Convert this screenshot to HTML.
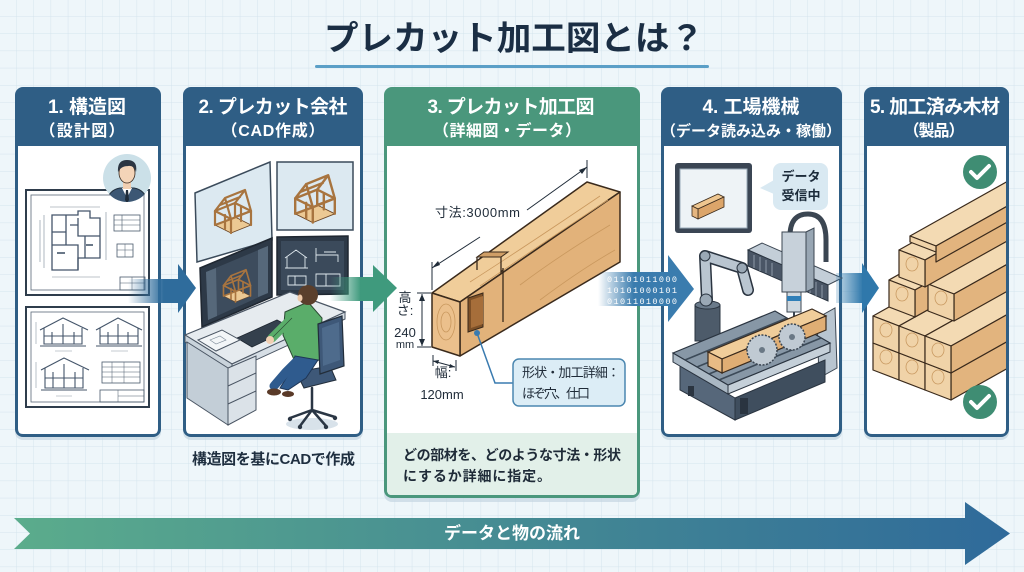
<!DOCTYPE html>
<html><head><meta charset="utf-8">
<style>
html,body{margin:0;padding:0;background:#eef6fa;}
svg{display:block}
text{font-family:"Liberation Sans","Noto Sans CJK JP",sans-serif;}
.mono{font-family:"Liberation Mono","DejaVu Sans Mono",monospace;}
</style></head><body>
<svg width="1024" height="572" viewBox="0 0 1024 572" xmlns="http://www.w3.org/2000/svg">
<defs>
<pattern id="grid" x="-0.5" y="-0.5" width="17.2" height="17.2" patternUnits="userSpaceOnUse">
<path d="M17.2 0V17.2H0" fill="none" stroke="#d4e4ed" stroke-width="1"/>
</pattern>
<linearGradient id="flow" x1="0" x2="1"><stop offset="0" stop-color="#5bac8c"/><stop offset="1" stop-color="#2f6a9a"/></linearGradient>
<linearGradient id="arB" x1="0" x2="1"><stop offset="0" stop-color="#2f6c9c" stop-opacity="0"/><stop offset="0.7" stop-color="#2f6c9c"/></linearGradient>
<linearGradient id="arG" x1="0" x2="1"><stop offset="0" stop-color="#3f9a7d" stop-opacity="0"/><stop offset="0.7" stop-color="#3f9a7d"/></linearGradient>
<linearGradient id="arC" x1="0" x2="1"><stop offset="0" stop-color="#3a7cae" stop-opacity="0"/><stop offset="0.5" stop-color="#3a7cae"/></linearGradient>
<linearGradient id="arD" x1="0" x2="1"><stop offset="0" stop-color="#2f78ab" stop-opacity="0.2"/><stop offset="1" stop-color="#2f78ab"/></linearGradient>
<clipPath id="av"><circle cx="127" cy="178" r="24"/></clipPath>
<clipPath id="p5"><rect x="867" y="146" width="139" height="288"/></clipPath>
<g id="hf" fill="none" stroke-linejoin="round" stroke-linecap="round">
 <path d="M-18 8 L2 0 L18 8 L-2 16 Z" fill="#ecc994" stroke="#6b4524" stroke-width="0.8"/>
 <path d="M-18 8 V-6 M2 0 V-14 M18 8 V-6 M-2 16 V2 M-8 12 V-2 M8 4 V-10 M-18 8 L-2 2 M2 0 L18 -6" stroke="#a8743f" stroke-width="2.2"/>
 <path d="M-18 -6 L2 -14 L18 -6 L-2 2 Z" stroke="#a8743f" stroke-width="2.2"/>
 <path d="M-18 -6 L-8 -19 L12 -27 L18 -6 M-2 2 L-8 -19 M2 -14 L12 -27 M-13 -12 L7 -20" stroke="#a8743f" stroke-width="2.2"/>
</g>
</defs>

<rect width="1024" height="572" fill="#eef6fa"/>
<rect width="1024" height="572" fill="url(#grid)"/>

<!-- Title -->
<text x="514" y="50" font-size="34" font-weight="bold" fill="#1b2e44" text-anchor="middle" textLength="380" lengthAdjust="spacingAndGlyphs">プレカット加工図とは？</text>
<rect x="315" y="65" width="394" height="3" rx="1.5" fill="#5b9fc7"/>

<!-- shadows -->
<g fill="#c4d6e1" opacity="0.7">
<rect x="15" y="90" width="146" height="350" rx="8"/>
<rect x="183" y="90" width="180" height="350" rx="8"/>
<rect x="384" y="90" width="256" height="412" rx="8"/>
<rect x="661" y="90" width="181" height="350" rx="8"/>
<rect x="864" y="90" width="145" height="350" rx="8"/>
</g>

<!-- Panels -->
<rect x="15" y="87" width="146" height="350" rx="8" fill="#2f5e85"/>
<path d="M18 146H158V429Q158 434 153 434H23Q18 434 18 429Z" fill="#fff"/>
<rect x="183" y="87" width="180" height="350" rx="8" fill="#2f5e85"/>
<path d="M186 146H360V429Q360 434 355 434H191Q186 434 186 429Z" fill="#fff"/>
<rect x="384" y="87" width="256" height="411" rx="8" fill="#4a977c"/>
<path d="M387 146H637V490Q637 495 632 495H392Q387 495 387 490Z" fill="#fff"/>
<path d="M387 433H637V490Q637 495 632 495H392Q387 495 387 490Z" fill="#e2f0e9"/>
<rect x="661" y="87" width="181" height="350" rx="8" fill="#2f5e85"/>
<path d="M664 146H839V429Q839 434 834 434H669Q664 434 664 429Z" fill="#fff"/>
<rect x="864" y="87" width="145" height="350" rx="8" fill="#2f5e85"/>
<path d="M867 146H1006V429Q1006 434 1001 434H872Q867 434 867 429Z" fill="#fff"/>

<!-- Header texts -->
<g fill="#fff" font-weight="bold" text-anchor="middle">
<text x="87" y="113" font-size="19" textLength="78">1. 構造図</text>
<text x="82" y="136" font-size="16" textLength="85">（設計図）</text>
<text x="273" y="113" font-size="19" textLength="149">2. プレカット会社</text>
<text x="273" y="136" font-size="16" textLength="103">（CAD作成）</text>
<text x="511" y="113" font-size="19" textLength="167">3. プレカット加工図</text>
<text x="507" y="136" font-size="16" textLength="148">（詳細図・データ）</text>
<text x="751" y="113" font-size="19" textLength="97">4. 工場機械</text>
<text x="751" y="136" font-size="15" textLength="180">（データ読み込み・稼働）</text>
<text x="935" y="113" font-size="19" textLength="130">5. 加工済み木材</text>
<text x="934" y="136" font-size="16" textLength="61">（製品）</text>
</g>

<!-- ===== Panel 1 ===== -->
<rect x="26" y="190" width="123" height="105" fill="#fff" stroke="#2f3d4c" stroke-width="2"/>
<rect x="31" y="195" width="113" height="95" fill="none" stroke="#5a6878" stroke-width="0.8"/>
<g stroke="#44556a" fill="none" stroke-width="1.3">
<path d="M52 215H78V211H90V218H100V258H78V270H52Z"/>
<path d="M52 232H66M66 215V245M78 218V236H100M52 245H78V270M70 225H78M85 236V258"/>
</g>
<g stroke="#7a8896" stroke-width="0.6" fill="none">
<path d="M50 207H100M44 215V268M106 212V260M52 277H100M40 220V262"/>
</g>
<g fill="#6a7888"><rect x="57" y="252" width="8" height="2"/><rect x="86" y="244" width="7" height="2"/></g>
<rect x="114" y="215" width="26" height="16" fill="none" stroke="#4a5a6c" stroke-width="0.8"/>
<path d="M114 220H140M114 225H140M122 215V231" stroke="#4a5a6c" stroke-width="0.6"/>
<rect x="117" y="244" width="16" height="13" fill="none" stroke="#4a5a6c" stroke-width="0.8"/>
<path d="M117 250H133M125 244V257" stroke="#4a5a6c" stroke-width="0.5"/>
<rect x="120" y="277" width="25" height="13" fill="none" stroke="#4a5a6c" stroke-width="0.8"/>
<path d="M120 283H145M132 277V290" stroke="#4a5a6c" stroke-width="0.5"/>

<rect x="26" y="307" width="123" height="100" fill="#fff" stroke="#2f3d4c" stroke-width="2"/>
<rect x="31" y="312" width="113" height="90" fill="none" stroke="#5a6878" stroke-width="0.8"/>
<g stroke="#44556a" fill="none" stroke-width="1.1">
<path d="M40 330L63 318L88 330M44 328V344H82V328M52 332V344M63 324V344M74 332V344M44 336H82M40 346H86"/>
<path d="M96 330L118 318L142 330M100 328V344H138V328M108 332V344M118 324V344M128 332V344M100 336H138M96 346H142"/>
<path d="M41 370L64 358L89 370M45 368V388H83V368M53 372V388M64 364V388M75 372V388M45 378H83M41 390H87"/>
</g>
<g stroke="#8a98a6" stroke-width="0.6"><path d="M36 322V344M36 362V388M55 351H72M111 351H128M56 396H72"/></g>
<rect x="102" y="362" width="38" height="21" fill="none" stroke="#4a5a6c" stroke-width="0.8"/>
<path d="M102 367H140M102 372H140M102 377H140M112 362V383M124 362V383" stroke="#4a5a6c" stroke-width="0.5"/>
<rect x="100" y="390" width="44" height="12" fill="none" stroke="#4a5a6c" stroke-width="0.8"/>
<path d="M118 390V402M118 396H144" stroke="#4a5a6c" stroke-width="0.5"/>

<circle cx="127" cy="178" r="24" fill="#cbe0e8"/>
<g clip-path="url(#av)">
<path d="M106 204Q108 190 120 188H134Q146 190 148 204Z" fill="#3c5774" stroke="#22303e" stroke-width="1"/>
<path d="M122 188L127 198L132 188Z" fill="#fff"/>
<path d="M126 190L128 190L129 200L127 203L125 200Z" fill="#1f2c3a"/>
<rect x="123" y="181" width="8" height="8" fill="#f1cfb2"/>
<ellipse cx="127" cy="173" rx="8" ry="10" fill="#f4d4b8" stroke="#3a2a20" stroke-width="0.8"/>
<path d="M118 172Q117 160 127 160Q138 160 136 172Q134 165 128 166Q121 166 118 172Z" fill="#2c3643"/>
</g>

<!-- ===== Panel 2 ===== -->
<polygon points="195,193 270,162 272,240 197,262" fill="#dce9f1" stroke="#3b4b5b" stroke-width="1.5"/>
<use href="#hf" transform="translate(233,217)"/>
<rect x="277" y="162" width="76" height="68" fill="#dce9f1" stroke="#3b4b5b" stroke-width="1.5"/>
<use href="#hf" transform="translate(315,205) scale(1.1)"/>

<polygon points="277,237 348,236 348,294 277,295" fill="#2d3947" stroke="#1f2731" stroke-width="1.5"/>
<rect x="281" y="241" width="63" height="49" fill="#3b4a5b"/>
<g stroke="#dfe8ee" stroke-width="0.9" fill="none">
<path d="M285 258L296 250L307 258M287 257V268H305V257M285 268H308"/>
<path d="M316 248V262M316 255H338V262M324 252H336"/>
<path d="M288 276H306V285H288ZM295 276V285"/>
<path d="M316 274H340V286H316ZM326 274V286"/>
</g>

<polygon points="200,268 272,238 272,297 202,327" fill="#2d3947" stroke="#1f2731" stroke-width="1.5"/>
<polygon points="206,272 268,246 268,293 208,320" fill="#3d4c5d"/>
<polygon points="206,272 216,268 217,316 208,320" fill="#56687a"/>
<polygon points="258,250 268,246 268,293 258,297" fill="#56687a"/>
<use href="#hf" transform="translate(237,290) scale(0.75)"/>
<polygon points="236,320 248,315 249,332 237,336" fill="#2d3947"/>
<ellipse cx="243" cy="336" rx="12" ry="4" fill="#2d3947"/>

<polygon points="185,335 290,292 345,312 232,364" fill="#e6ebef" stroke="#4a5563" stroke-width="1.2"/>
<polygon points="185,335 232,364 232,371 185,342" fill="#c9d3db" stroke="#4a5563" stroke-width="1"/>
<polygon points="232,364 345,312 345,319 232,371" fill="#d6dee5" stroke="#4a5563" stroke-width="1"/>
<polygon points="187,342 228,368 228,425 187,398" fill="#c3ced7" stroke="#4a5563" stroke-width="1"/>
<polygon points="228,368 256,356 256,410 228,425" fill="#dbe2e8" stroke="#4a5563" stroke-width="1"/>
<path d="M228 386L256 373M228 404L256 391" stroke="#4a5563" stroke-width="1"/>
<polygon points="237,338 277,320 292,328 252,347" fill="#34404d" stroke="#1f2731" stroke-width="0.8"/>
<polygon points="198,340 222,330 240,340 216,351" fill="#f3f6f8" stroke="#4a5563" stroke-width="1"/>
<path d="M210 340L220 336L226 340L216 344Z" fill="none" stroke="#7a8896" stroke-width="0.6"/>
<ellipse cx="282" cy="331" rx="4" ry="2.5" fill="#34404d"/>

<ellipse cx="312" cy="424" rx="26" ry="6" fill="#d8e2ea"/>
<g stroke="#2a3644" stroke-width="2.5" stroke-linecap="round">
<path d="M312 388V410M312 410L290 418M312 410L335 417M312 410L300 426M312 410L326 426"/>
</g>
<g fill="#2a3644"><circle cx="290" cy="419" r="2.2"/><circle cx="335" cy="418" r="2.2"/><circle cx="300" cy="427" r="2.2"/><circle cx="326" cy="427" r="2.2"/></g>
<polygon points="296,372 330,366 336,380 304,388" fill="#3e5878" stroke="#222d3a" stroke-width="1"/>
<polygon points="285,312 308,302 322,318 320,360 296,364 283,335" fill="#5aad6a" stroke="#2b4a33" stroke-width="1"/>
<path d="M292 318L272 338" stroke="#5aad6a" stroke-width="9" stroke-linecap="round"/>
<path d="M292 318L272 338" stroke="#2b4a33" stroke-width="0.6" fill="none"/>
<circle cx="270" cy="340" r="4" fill="#f1cfb2"/>
<path d="M295 356L318 360L306 378L288 390L280 388L290 372Z" fill="#2f5b8e" stroke="#1f3656" stroke-width="1"/>
<path d="M296 362L286 372L274 386" stroke="#2f5b8e" stroke-width="9" stroke-linecap="round"/>
<ellipse cx="274" cy="392" rx="7" ry="3.5" fill="#5a3a28"/>
<ellipse cx="288" cy="394" rx="6" ry="3" fill="#5a3a28"/>
<circle cx="308" cy="295" r="10" fill="#5b3f2c"/>
<ellipse cx="300" cy="298" rx="2.5" ry="3.5" fill="#efc9a8"/>
<polygon points="318,324 342,316 344,366 320,374" fill="#3e5878" stroke="#222d3a" stroke-width="1.2"/>
<polygon points="322,328 339,322 340,360 323,366" fill="#4e6b8c"/>

<text x="273.5" y="464" font-size="15" font-weight="bold" fill="#1f2f40" text-anchor="middle" textLength="163">構造図を基にCADで作成</text>

<!-- ===== Panel 3 ===== -->
<polygon points="432,293 587,182 620,192 460,302" fill="#f0cd9a" stroke="#3a2a1c" stroke-width="1.5" stroke-linejoin="round"/>
<polygon points="460,302 620,192 620,262 460,356" fill="#e2b27a" stroke="#3a2a1c" stroke-width="1.5" stroke-linejoin="round"/>
<polygon points="432,293 460,302 460,356 432,347" fill="#ebc08c" stroke="#3a2a1c" stroke-width="1.5" stroke-linejoin="round"/>
<g fill="none" stroke="#c9985e" stroke-width="0.8">
<path d="M470 282Q520 250 600 196M480 286Q540 245 608 200M520 285Q560 255 610 225M540 300Q580 270 615 250"/>
<ellipse cx="446" cy="322" rx="9" ry="18"/><ellipse cx="446" cy="322" rx="5" ry="10"/>
</g>
<polygon points="477,257 484,252 508,252 501,257" fill="#cf9e66" stroke="#3a2a1c" stroke-width="1"/>
<path d="M477 257V270M501 257V272L503 270M503 268V322" stroke="#3a2a1c" stroke-width="1.3" fill="none"/>
<polygon points="468,298 483,293 483,327 468,332" fill="#7d5027" stroke="#3a2a1c" stroke-width="1"/>
<polygon points="471,300 483,296 483,324 471,328" fill="#a66e3a"/>

<g stroke="#1f2b38" stroke-width="1" fill="none">
<path d="M432 290V262M587 178V160"/>
<path d="M432 268L480 237M527 210L587 167"/>
<path d="M422 294V346M417 293H431M417 347H431"/>
<path d="M433 361L455 367M433 355V366M456 360V371"/>
</g>
<g fill="#1f2b38">
<polygon points="432,268 438,261 440,265"/>
<polygon points="587,167 579,170 582,174"/>
<polygon points="422,294 419,301 425,301"/>
<polygon points="422,346 419,339 425,339"/>
<polygon points="433,361 439,360 438,364"/>
<polygon points="455,367 449,368 450,364"/>
</g>
<g font-size="13" fill="#1f2b38">
<text x="435" y="217" textLength="85">寸法:3000mm</text>
<text x="405" y="302" text-anchor="middle">高</text>
<text x="405" y="315" text-anchor="middle">さ:</text>
<text x="405" y="337" text-anchor="middle">240</text>
<text x="405" y="348" text-anchor="middle" font-size="11">mm</text>
<text x="443" y="377" text-anchor="middle">幅:</text>
<text x="442" y="399" text-anchor="middle">120mm</text>
</g>
<path d="M477 333L495 383H513" stroke="#3a7bb0" stroke-width="1.5" fill="none"/>
<circle cx="477" cy="333" r="3" fill="#3a7bb0"/>
<rect x="513" y="359" width="112" height="47" rx="6" fill="#dcedf6" stroke="#4b87b0" stroke-width="1.5"/>
<text x="522" y="377" font-size="13" fill="#1f2b38" textLength="98">形状・加工詳細：</text>
<text x="522" y="398" font-size="13" fill="#1f2b38" textLength="68">ほぞ穴、仕口</text>

<text x="403" y="460" font-size="14" font-weight="bold" fill="#1f2b38" textLength="218">どの部材を、どのような寸法・形状</text>
<text x="403" y="481" font-size="14" font-weight="bold" fill="#1f2b38" textLength="148">にするか詳細に指定。</text>

<!-- ===== Panel 4 ===== -->
<rect x="675" y="163" width="77" height="70" rx="3" fill="#3b4654"/>
<rect x="680" y="169" width="67" height="59" fill="#eef3f6" stroke="#9aabb9" stroke-width="1"/>
<polygon points="692,206 718,194 724,197 698,209" fill="#eec690" stroke="#3a2a1c" stroke-width="0.8"/>
<polygon points="698,209 724,197 724,207 698,219" fill="#dca56a" stroke="#3a2a1c" stroke-width="0.8"/>
<polygon points="692,206 698,209 698,219 692,216" fill="#e6b680" stroke="#3a2a1c" stroke-width="0.8"/>
<rect x="773" y="163" width="55" height="47" rx="8" fill="#d9e9f2"/>
<polygon points="774,180 760,188 774,194" fill="#d9e9f2"/>
<text x="801" y="181" font-size="13" font-weight="bold" fill="#1c2b3a" text-anchor="middle">データ</text>
<text x="801" y="200" font-size="13" font-weight="bold" fill="#1c2b3a" text-anchor="middle">受信中</text>

<!-- robot arm -->
<rect x="695" y="305" width="25" height="36" fill="#4d5b6a" stroke="#2a3440" stroke-width="1"/>
<ellipse cx="707.5" cy="305" rx="12.5" ry="4" fill="#6a7a8a" stroke="#2a3440" stroke-width="1"/>
<path d="M707 300L705 256L742 268L748 290" stroke="#2a3440" stroke-width="12" fill="none" stroke-linejoin="round" stroke-linecap="round"/>
<path d="M707 300L705 256L742 268L748 290" stroke="#b9c5d0" stroke-width="9" fill="none" stroke-linejoin="round" stroke-linecap="round"/>
<circle cx="706" cy="300" r="6" fill="#9aa8b5" stroke="#2a3440"/>
<circle cx="705" cy="256" r="5" fill="#9aa8b5" stroke="#2a3440"/>
<circle cx="742" cy="268" r="5" fill="#9aa8b5" stroke="#2a3440"/>

<!-- gantry -->
<path d="M790 236Q790 214 808 214Q826 214 826 240V262" stroke="#3b4652" stroke-width="5" fill="none"/>
<polygon points="748,250 762,243 842,278 828,285" fill="#c3ced8" stroke="#3b4652" stroke-width="1"/>
<polygon points="748,250 828,285 828,301 748,266" fill="#4a5666" stroke="#2a3440" stroke-width="1"/>
<g stroke="#8d9aa8" stroke-width="1"><path d="M754 255V268M760 257V271M766 260V273M772 263V276M810 280V293M816 282V296M822 285V298"/></g>
<rect x="782" y="232" width="24" height="60" fill="#c7d1da" stroke="#3b4652" stroke-width="1"/>
<polygon points="806,232 814,228 814,288 806,292" fill="#98a6b3" stroke="#3b4652" stroke-width="1"/>
<rect x="787" y="292" width="14" height="20" fill="#d0d9e0" stroke="#3b4652" stroke-width="1"/>
<rect x="787" y="296" width="14" height="5" fill="#2f7fb8"/>
<path d="M794 312V324" stroke="#3b4652" stroke-width="2"/>
<polygon points="817,318 835,308 837,368 819,378" fill="#b8c5d0" stroke="#3b4652" stroke-width="1"/>

<!-- table -->
<polygon points="680,366 735,398 735,420 680,390" fill="#56677a" stroke="#2a3440" stroke-width="1"/>
<polygon points="735,398 825,360 825,382 735,420" fill="#3f4e5e" stroke="#2a3440" stroke-width="1"/>
<polygon points="673,353 728,385 728,394 673,362" fill="#aab8c4" stroke="#2a3440" stroke-width="1"/>
<polygon points="728,385 830,343 830,352 728,394" fill="#c5d0d9" stroke="#2a3440" stroke-width="1"/>
<polygon points="673,353 775,311 830,343 728,385" fill="#8797a6" stroke="#2a3440" stroke-width="1.2"/>
<g stroke="#3c4a58" stroke-width="1.6"><path d="M685 360L787 318M697 367L799 325M709 374L811 332M719 380L821 338"/></g>
<rect x="740" y="398" width="8" height="16" fill="#2a3440"/>
<rect x="688" y="386" width="6" height="10" fill="#2a3440"/>
<!-- wood -->
<polygon points="708,352 812,309 826,316 722,359" fill="#f0cd9a" stroke="#3a2a1c" stroke-width="1.2"/>
<polygon points="722,359 826,316 826,330 722,373" fill="#e0ae74" stroke="#3a2a1c" stroke-width="1.2"/>
<polygon points="708,352 722,359 722,373 708,366" fill="#e8bb85" stroke="#3a2a1c" stroke-width="1.2"/>
<!-- blades -->
<circle cx="762" cy="350" r="15" fill="#c0cad3" stroke="#3b4652" stroke-width="1.5" stroke-dasharray="2 1.5"/>
<circle cx="762" cy="350" r="3" fill="#6a7885"/>
<circle cx="792" cy="337" r="13" fill="#c0cad3" stroke="#3b4652" stroke-width="1.5" stroke-dasharray="2 1.5"/>
<circle cx="792" cy="337" r="3" fill="#6a7885"/>

<!-- ===== Panel 5 ===== -->
<g clip-path="url(#p5)" stroke="#3a2a1c" stroke-width="1.2" stroke-linejoin="round">
<!-- row 4 -->
<polygon points="873,343 1073,231 1099,241 899,353" fill="#f3dab3"/><polygon points="899,353 1099,241 1099,268 899,380" fill="#e2b47e"/><polygon points="873,343 899,353 899,380 873,370" fill="#f0d3a8"/>
<polygon points="899,353 1099,241 1125,251 925,363" fill="#f3dab3"/><polygon points="925,363 1125,251 1125,278 925,390" fill="#e2b47e"/><polygon points="899,353 925,363 925,390 899,380" fill="#f0d3a8"/>
<polygon points="925,363 1125,251 1151,261 951,373" fill="#f3dab3"/><polygon points="951,373 1151,261 1151,288 951,400" fill="#e2b47e"/><polygon points="925,363 951,373 951,400 925,390" fill="#f0d3a8"/>
<!-- row 3 -->
<polygon points="873,316 1073,204 1099,214 899,326" fill="#f3dab3"/><polygon points="899,326 1099,214 1099,241 899,353" fill="#e2b47e"/><polygon points="873,316 899,326 899,353 873,343" fill="#f0d3a8"/>
<polygon points="899,326 1099,214 1125,224 925,336" fill="#f3dab3"/><polygon points="925,336 1125,224 1125,251 925,363" fill="#e2b47e"/><polygon points="899,326 925,336 925,363 899,353" fill="#f0d3a8"/>
<polygon points="925,336 1125,224 1151,234 951,346" fill="#f3dab3"/><polygon points="951,346 1151,234 1151,261 951,373" fill="#e2b47e"/><polygon points="925,336 951,346 951,373 925,363" fill="#f0d3a8"/>
<!-- row 2 -->
<polygon points="889,280 1089,168 1115,178 915,290" fill="#f3dab3"/><polygon points="915,290 1115,178 1115,205 915,317" fill="#e2b47e"/><polygon points="889,280 915,290 915,317 889,307" fill="#f0d3a8"/>
<polygon points="928,284 1128,172 1154,182 954,294" fill="#f3dab3"/><polygon points="954,294 1154,182 1154,209 954,321" fill="#e2b47e"/><polygon points="928,284 954,294 954,321 928,311" fill="#f0d3a8"/>
<!-- row 1 -->
<polygon points="899,250 1099,138 1125,148 925,260" fill="#f3dab3"/><polygon points="925,260 1125,148 1125,175 925,287" fill="#e2b47e"/><polygon points="899,250 925,260 925,287 899,277" fill="#f0d3a8"/>
<polygon points="910,236 1110,124 1136,134 936,246" fill="#f3dab3"/><polygon points="936,246 1136,134 1136,150 936,262" fill="#e2b47e"/><polygon points="910,236 936,246 936,252 910,242" fill="#f0d3a8"/>
<g fill="none" stroke="#c99a62" stroke-width="0.8">
<ellipse cx="886" cy="357" rx="6" ry="7"/><ellipse cx="912" cy="367" rx="6" ry="7"/><ellipse cx="938" cy="377" rx="6" ry="7"/>
<ellipse cx="886" cy="330" rx="6" ry="7"/><ellipse cx="912" cy="340" rx="6" ry="7"/><ellipse cx="938" cy="350" rx="6" ry="7"/>
<ellipse cx="902" cy="294" rx="6" ry="7"/><ellipse cx="941" cy="298" rx="6" ry="7"/><ellipse cx="912" cy="264" rx="6" ry="7"/>
</g>
</g>
<circle cx="980" cy="172" r="17" fill="#3f8d73"/>
<path d="M971 172L977 178L989 166" stroke="#fff" stroke-width="4" fill="none" stroke-linecap="round" stroke-linejoin="round"/>
<circle cx="980" cy="402" r="17" fill="#3f8d73"/>
<path d="M971 402L977 408L989 396" stroke="#fff" stroke-width="4" fill="none" stroke-linecap="round" stroke-linejoin="round"/>

<!-- ===== Connector arrows ===== -->
<rect x="128" y="279" width="51" height="24" fill="url(#arB)"/>
<polygon points="178,264 196,288 178,313" fill="#2f6c9c"/>
<rect x="330" y="277" width="44" height="24" fill="url(#arG)"/>
<polygon points="373,265 397,288 373,312" fill="#3f9a7d"/>
<rect x="598" y="272" width="71" height="34" fill="url(#arC)"/>
<polygon points="668,255 694,289 668,322" fill="#3a7cae"/>
<g font-size="8.5" fill="#fff">
<text x="607" y="282" textLength="70" class="mono">01101011000</text>
<text x="607" y="293" textLength="70" class="mono">10101000101</text>
<text x="607" y="304" textLength="70" class="mono">01011010000</text>
</g>
<rect x="836" y="273" width="27" height="30" fill="url(#arD)"/>
<polygon points="862,263 879,288 862,313" fill="#2f78ab"/>

<!-- ===== Bottom flow arrow ===== -->
<polygon points="14,518 965,518 965,502 1010,533.5 965,565 965,549 14,549 30,533.5" fill="url(#flow)"/>
<text x="512" y="539" font-size="17" font-weight="bold" fill="#fff" text-anchor="middle">データと物の流れ</text>
</svg>
</body></html>
